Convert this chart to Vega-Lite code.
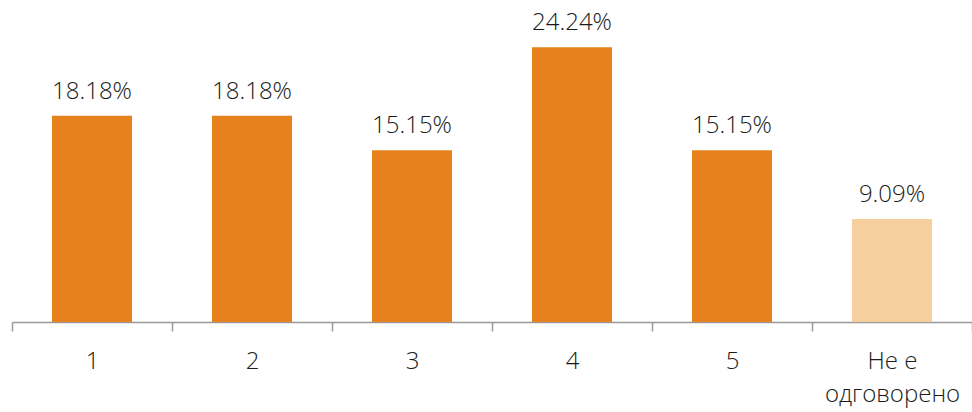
{
  "$schema": "https://vega.github.io/schema/vega-lite/v6.json",
  "width": 960,
  "height": 322,
  "autosize": {"type": "none"},
  "padding": {"left": 12, "top": 0, "right": 0, "bottom": 90},
  "config": {
    "view": {"stroke": null},
    "font": "Open Sans"
  },
  "data": {
    "values": [
      {"category": "1", "value": 18.18, "label": "18.18%", "type": "answer"},
      {"category": "2", "value": 18.18, "label": "18.18%", "type": "answer"},
      {"category": "3", "value": 15.15, "label": "15.15%", "type": "answer"},
      {"category": "4", "value": 24.24, "label": "24.24%", "type": "answer"},
      {"category": "5", "value": 15.15, "label": "15.15%", "type": "answer"},
      {"category": "Не е\nодговорено", "value": 9.09, "label": "9.09%", "type": "none"}
    ]
  },
  "encoding": {
    "x": {
      "field": "category",
      "type": "nominal",
      "sort": null,
      "scale": {"paddingInner": 0, "paddingOuter": 0},
      "axis": {
        "title": null,
        "labelAngle": 0,
        "labelFontSize": 24,
        "labelFontWeight": 350,
        "labelColor": "#1a1a1a",
        "labelPadding": 18,
        "labelLineHeight": 33,
        "labelBaseline": "top",
        "labelExpr": "split(datum.label, '\\n')",
        "domainColor": "#999999",
        "domainWidth": 1.5,
        "tickColor": "#999999",
        "tickWidth": 1.5,
        "tickSize": 9,
        "tickBand": "extent",
        "grid": false
      }
    },
    "y": {
      "field": "value",
      "type": "quantitative",
      "scale": {"domain": [0, 28.4], "nice": false},
      "axis": null
    }
  },
  "layer": [
    {
      "mark": {"type": "bar", "width": {"band": 0.5}},
      "encoding": {
        "color": {
          "field": "type",
          "type": "nominal",
          "scale": {"domain": ["answer", "none"], "range": ["#E6821E", "#F6CF9E"]},
          "legend": null
        }
      }
    },
    {
      "mark": {"type": "text", "dy": -17, "baseline": "alphabetic", "fontSize": 24, "fontWeight": 350, "color": "#1a1a1a"},
      "encoding": {
        "text": {"field": "label", "type": "nominal"}
      }
    }
  ]
}
